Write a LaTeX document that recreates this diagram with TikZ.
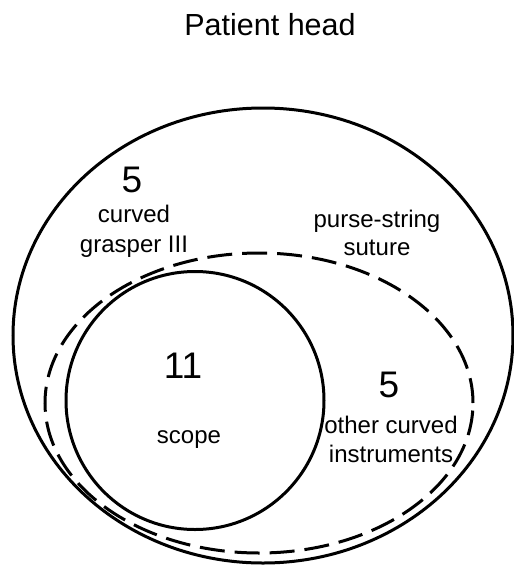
\documentclass[tikz,border=0pt]{standalone}
\usepackage{fontspec}
\setmainfont{Liberation Sans}
\begin{document}
\begin{tikzpicture}[x=1pt,y=-1pt,
  ring/.style={draw=black, line width=3pt},
  dashring/.style={draw=black, line width=3pt, dash pattern=on 25pt off 10pt},
  lbl/.style={anchor=base, inner sep=0pt, font=\fontsize{24}{29}\selectfont},
  num/.style={anchor=base, inner sep=0pt, font=\fontsize{37}{44}\selectfont},
  ttl/.style={anchor=base, inner sep=0pt, font=\fontsize{30.5}{36}\selectfont}]
\useasboundingbox (0,0) rectangle (514,566);
\fill[white] (0,0) rectangle (514,566);
% shapes
\draw[ring] (263,335.5) ellipse [x radius=250pt, y radius=227.5pt];
\draw[dashring] (259,403) ellipse [x radius=214pt, y radius=150pt];
\draw[ring] (195,400.5) circle [radius=129pt];
% texts
\node[ttl] (title) at (270,35) {Patient head};
\node[num] (n5a) at (132,192) {5};
\node[lbl] (cg1) at (134,222) {curved};
\node[lbl] (cg2) at (134,252) {grasper III};
\node[lbl] (ps1) at (377,227) {purse-string};
\node[lbl] (ps2) at (377,255) {suture};
\node[num] (n11) at (183,378) {11};
\node[lbl] (sc) at (189,443) {scope};
\node[num] (n5b) at (389,397) {5};
\node[lbl] (oc1) at (391,433) {other curved};
\node[lbl] (oc2) at (391,462) {instruments};
\end{tikzpicture}
\end{document}
